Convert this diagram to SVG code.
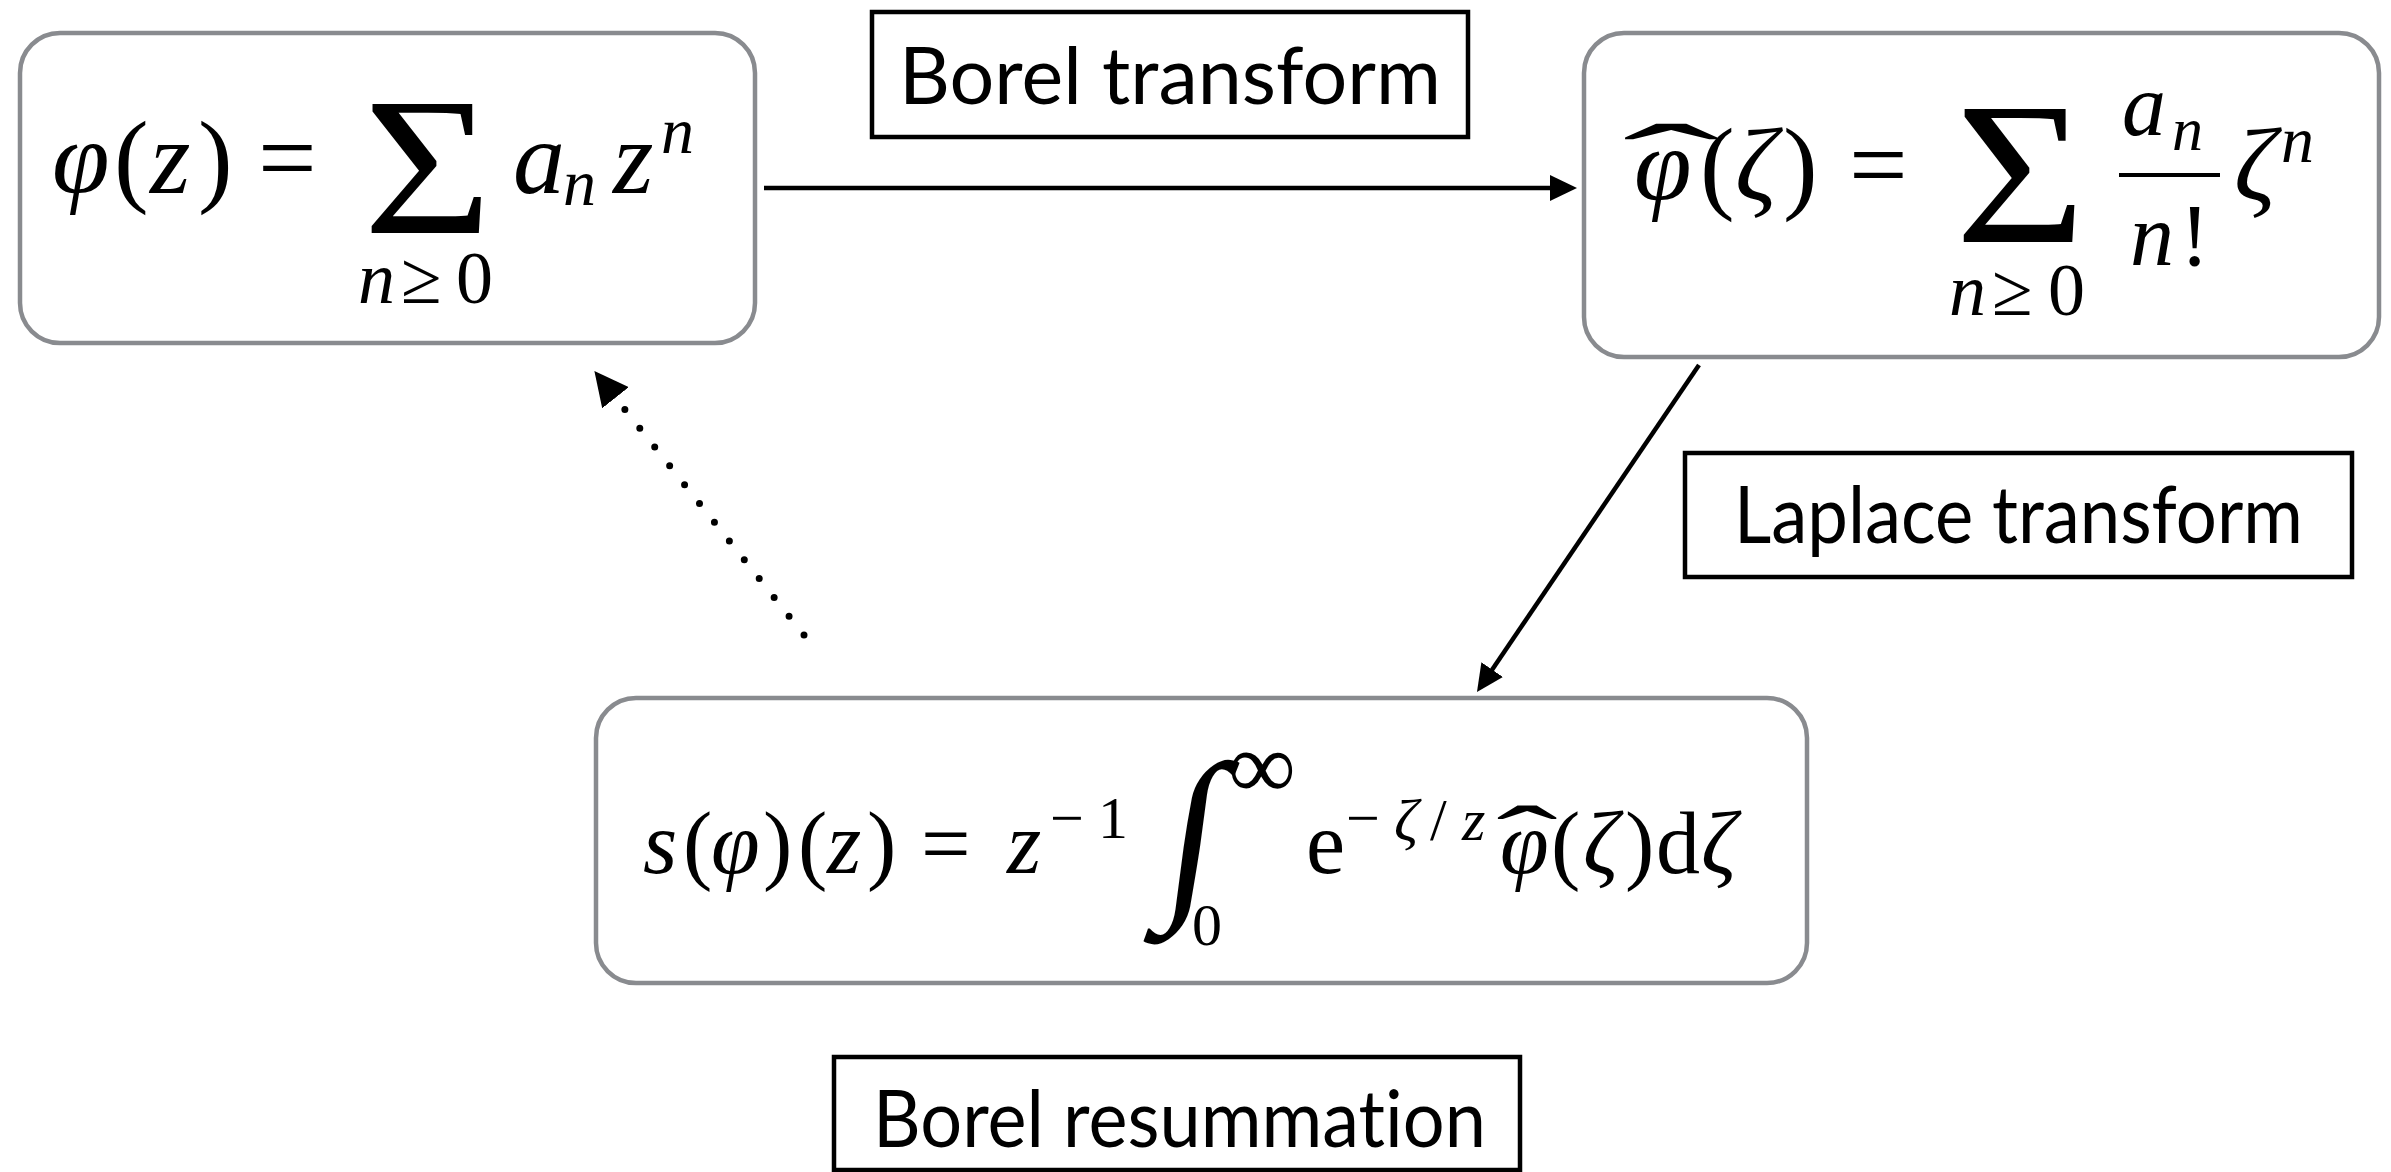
<svg xmlns="http://www.w3.org/2000/svg" width="2391" height="1172" viewBox="0 0 2391 1172">
<style>
.box{fill:#fff;stroke:#898b8f;stroke-width:4.5}
.lbl{fill:#fff;stroke:#000;stroke-width:4.5}
.lt{font-family:Lato,"Open Sans","Liberation Sans",sans-serif;font-size:80px;fill:#000;font-variant-ligatures:none;font-feature-settings:"liga" 0,"clig" 0}
.m{font-family:"Liberation Serif","DejaVu Serif",serif;fill:#000}
.i{font-style:italic}
.conn{fill:none;stroke:#000;stroke-width:4.5}
.dot{fill:none;stroke:#000;stroke-width:7;stroke-linecap:round;stroke-dasharray:0 24}
</style>
<defs>
<marker id="ah" markerUnits="userSpaceOnUse" viewBox="0 0 27 26" markerWidth="27" markerHeight="26" refX="17" refY="13" orient="auto">
<path d="M0,0 L27,13 L0,26 z" fill="#000"/>
</marker>
<marker id="ahd" markerUnits="userSpaceOnUse" viewBox="0 0 34 34" markerWidth="34" markerHeight="34" refX="-8" refY="17" orient="auto">
<path d="M0,0 L34,17 L0,34 z" fill="#000"/>
</marker>
</defs>
<rect width="2391" height="1172" fill="#fff"/>

<g id="connectors">
<path class="conn" d="M764,188 L1567,188" marker-end="url(#ah)"/>
<path class="conn" d="M1699,365 L1482.6,683.7" marker-end="url(#ah)"/>
<path class="dot" d="M804,635 L620.5,404" marker-end="url(#ahd)"/>
</g>

<g id="node-series">
<rect class="box" x="20" y="33" width="735" height="310" rx="40"/>
<text class="m" font-size="104"><tspan x="52" y="193" class="i">φ</tspan><tspan x="114" y="193">(</tspan><tspan x="150" y="193" class="i">z</tspan><tspan x="198" y="193">)</tspan><tspan x="258" y="193">=</tspan><tspan x="513" y="193" class="i">a</tspan><tspan x="563" y="205" class="i" font-size="66">n</tspan><tspan x="613" y="193" class="i">z</tspan><tspan x="661" y="153" class="i" font-size="66">n</tspan></text>
<text class="m" font-size="198" transform="translate(363,233) scale(1.12,1)">Σ</text>
<text class="m" font-size="74"><tspan x="358" y="303" class="i">n</tspan><tspan x="401" y="303">≥</tspan><tspan x="456" y="303">0</tspan></text>
</g>

<g id="node-borel">
<rect class="box" x="1584" y="33" width="795" height="324" rx="40"/>
<text class="m" font-size="104"><tspan x="1634" y="200" class="i">φ</tspan><tspan x="1700" y="200">(</tspan><tspan x="1735" y="200" class="i">ζ</tspan><tspan x="1783" y="200">)</tspan><tspan x="1849" y="200">=</tspan><tspan x="2122" y="135" class="i" font-size="88">a</tspan><tspan x="2172" y="150" class="i" font-size="62">n</tspan><tspan x="2130" y="265" font-size="88" class="i">n</tspan><tspan x="2180" y="265" font-size="88">!</tspan><tspan x="2234" y="200" class="i">ζ</tspan><tspan x="2281" y="162" class="i" font-size="66">n</tspan></text>
<text class="m" font-size="104" transform="translate(1671,196) scale(2.8,1)" text-anchor="middle">ˆ</text>
<text class="m" font-size="204" transform="translate(1955,242) scale(1.1,1)">Σ</text>
<line x1="2119" y1="175" x2="2220" y2="175" stroke="#000" stroke-width="4"/>
<text class="m" font-size="74"><tspan x="1949" y="315" class="i">n</tspan><tspan x="1992" y="315">≥</tspan><tspan x="2048" y="315">0</tspan></text>
</g>

<g id="node-laplace">
<rect class="box" x="596" y="698" width="1211" height="285" rx="40"/>
<text class="m" font-size="88"><tspan x="643" y="873" class="i">s</tspan><tspan x="683" y="873">(</tspan><tspan x="711" y="873" class="i">φ</tspan><tspan x="763" y="873">)</tspan><tspan x="798" y="873">(</tspan><tspan x="827" y="873" class="i">z</tspan><tspan x="867" y="873">)</tspan><tspan x="921" y="873">=</tspan><tspan x="1007" y="873" class="i">z</tspan><tspan x="1050" y="838" font-size="60">−</tspan><tspan x="1098" y="838" font-size="60">1</tspan><tspan x="1228" y="798" font-size="95">∞</tspan><tspan x="1192" y="945" font-size="60">0</tspan><tspan x="1306" y="873">e</tspan><tspan x="1346" y="838" font-size="60">−</tspan><tspan x="1394" y="840" font-size="60" class="i">ζ</tspan><tspan x="1430" y="840" font-size="60">/</tspan><tspan x="1462" y="840" font-size="60" class="i">z</tspan><tspan x="1500" y="873" class="i">φ</tspan><tspan x="1551" y="873">(</tspan><tspan x="1583" y="873" class="i">ζ</tspan><tspan x="1625" y="873">)</tspan><tspan x="1656" y="873">d</tspan><tspan x="1701" y="873" class="i">ζ</tspan></text>
<text class="m" font-size="188" transform="translate(1160,894) skewX(-8)">∫</text>
<text class="m" font-size="88" transform="translate(1527,868) scale(2.1,1)" text-anchor="middle">ˆ</text>
</g>

<g id="label-borel-transform">
<rect class="lbl" x="872" y="12" width="596" height="125"/>
<text class="lt" x="899" y="104" textLength="542" lengthAdjust="spacingAndGlyphs">Borel transform</text>
</g>

<g id="label-laplace-transform">
<rect class="lbl" x="1685" y="453" width="667" height="124"/>
<text class="lt" x="1734" y="543" textLength="569" lengthAdjust="spacingAndGlyphs">Laplace transform</text>
</g>

<g id="label-borel-resummation">
<rect class="lbl" x="834" y="1057" width="686" height="113"/>
<text class="lt" x="873" y="1147" textLength="613" lengthAdjust="spacingAndGlyphs">Borel resummation</text>
</g>
</svg>
